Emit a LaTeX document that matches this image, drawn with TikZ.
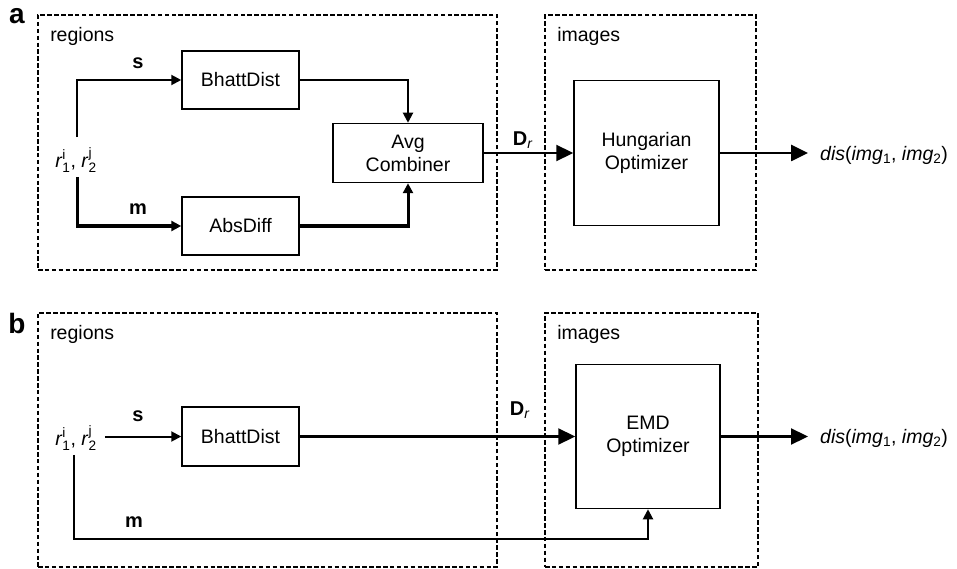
\documentclass[tikz,border=0pt]{standalone}
\usepackage{amsmath}
\usepackage{fontspec}
\setmainfont{Liberation Sans}
\usepackage{tikz}
\usetikzlibrary{arrows.meta}
\usetikzlibrary{positioning}

\newcommand{\rpair}{\textit{r}$_{\text{1}}^{\text{i}}$, \textit{r}$_{\text{2}}^{\text{j}}$}

\begin{document}
\begin{tikzpicture}
		[x=1pt, y=-1pt,
		every node/.style={font=\fontsize{19.5}{23}\selectfont, inner sep=2pt},
		block/.style={draw, line width=1.5pt, minimum width=117pt, minimum height=58pt, align=center},
		group/.style={draw, line width=1.9pt, dash pattern=on 4.5pt off 2.4pt, minimum width=459pt, minimum height=255pt},
		panel/.style={font=\fontsize{28}{30}\selectfont\bfseries},
		lbl/.style={font=\fontsize{20}{23}\selectfont\bfseries},
		conn/.style={line width=2pt, -{Triangle[length=10pt,width=10pt]}},
		bigconn/.style={line width=2.2pt, -{Triangle[length=17pt,width=16pt]}}]
		\useasboundingbox (0,0) rectangle (957,569);

		% panel a
		\node[panel] (pa) at (17,16) {a};
		\node[group] (regA) at (267.5,142.5) {};
		\node[group, minimum width=211pt] (imgA) at (650.5,142.5) {};
		\node[anchor=west] (regAlbl) at ([xshift=11pt, yshift=-22pt]regA.north west) {regions};
		\node[anchor=west] (imgAlbl) at ([xshift=11pt, yshift=-22pt]imgA.north west) {images};
		\node[block] (bhattA) at (240.5,80) {BhattDist};
		\node[block] (absA) at (240.5,226) {AbsDiff};
		\node[block, minimum width=150pt, minimum height=59pt] (avgA) at (408,153) {Avg\\Combiner};
		\node[block, minimum width=145pt, minimum height=145pt] (hungA) at (646.5,153) {Hungarian\\Optimizer};
		\node (rA) at (76,160) {\rpair};
		\node[lbl] (sA) at (138,63) {s};
		\node[lbl] (mA) at (138,209) {m};
		\node[lbl] (dA) at (523,140) {D\textsubscript{\textit{\mdseries r}}};
		\node[anchor=west, inner sep=0pt] (outA) at (820,155) {\textit{dis}(\textit{img}\textsubscript{1}, \textit{img}\textsubscript{2})};

		\draw[conn] ([xshift=1pt, yshift=8pt]rA.north) |- (bhattA.west);
		\draw[conn, line width=3pt] ([xshift=1pt, yshift=-2pt]rA.south) |- (absA.west);
		\draw[conn] (bhattA.east) -| (avgA.north);
		\draw[conn, line width=3pt] (absA.east) -| (avgA.south);
		\draw[bigconn] (avgA.east) -- (hungA.west);
		\draw[bigconn, line width=2.6pt] (hungA.east) -- ([xshift=-12pt]outA.west |- hungA.east);

		% panel b
		\node[panel] (pb) at (17,323) {b};
		\node[group, minimum height=254pt] (regB) at (267.5,440) {};
		\node[group, minimum width=213pt, minimum height=254pt] (imgB) at (651.5,440) {};
		\node[anchor=west] (regBlbl) at ([xshift=11pt, yshift=-22pt]regB.north west) {regions};
		\node[anchor=west] (imgBlbl) at ([xshift=11pt, yshift=-22pt]imgB.north west) {images};
		\node[block, minimum height=59pt] (bhattB) at (240.5,436.5) {BhattDist};
		\node[block, minimum width=144pt, minimum height=144pt] (emdB) at (648,436.5) {EMD\\Optimizer};
		\node (rB) at (76,438) {\rpair};
		\node[lbl] (sB) at (138,416) {s};
		\node[lbl] (mB) at (134,522) {m};
		\node[lbl] (dB) at (520,410) {D\textsubscript{\textit{\mdseries r}}};
		\node[anchor=west, inner sep=0pt] (outB) at (820,438) {\textit{dis}(\textit{img}\textsubscript{1}, \textit{img}\textsubscript{2})};

		\draw[conn] ([xshift=6pt]rB.east |- bhattB.west) -- (bhattB.west);
		\draw[bigconn] (bhattB.east) -- (emdB.west);
		\draw[conn] ([xshift=-2pt, yshift=-2pt]rB.south) |- ([yshift=-30pt]emdB.south) -- (emdB.south);
		\draw[bigconn] (emdB.east) -- ([xshift=-12pt]outB.west |- emdB.east);
	\end{tikzpicture}
\end{document}
